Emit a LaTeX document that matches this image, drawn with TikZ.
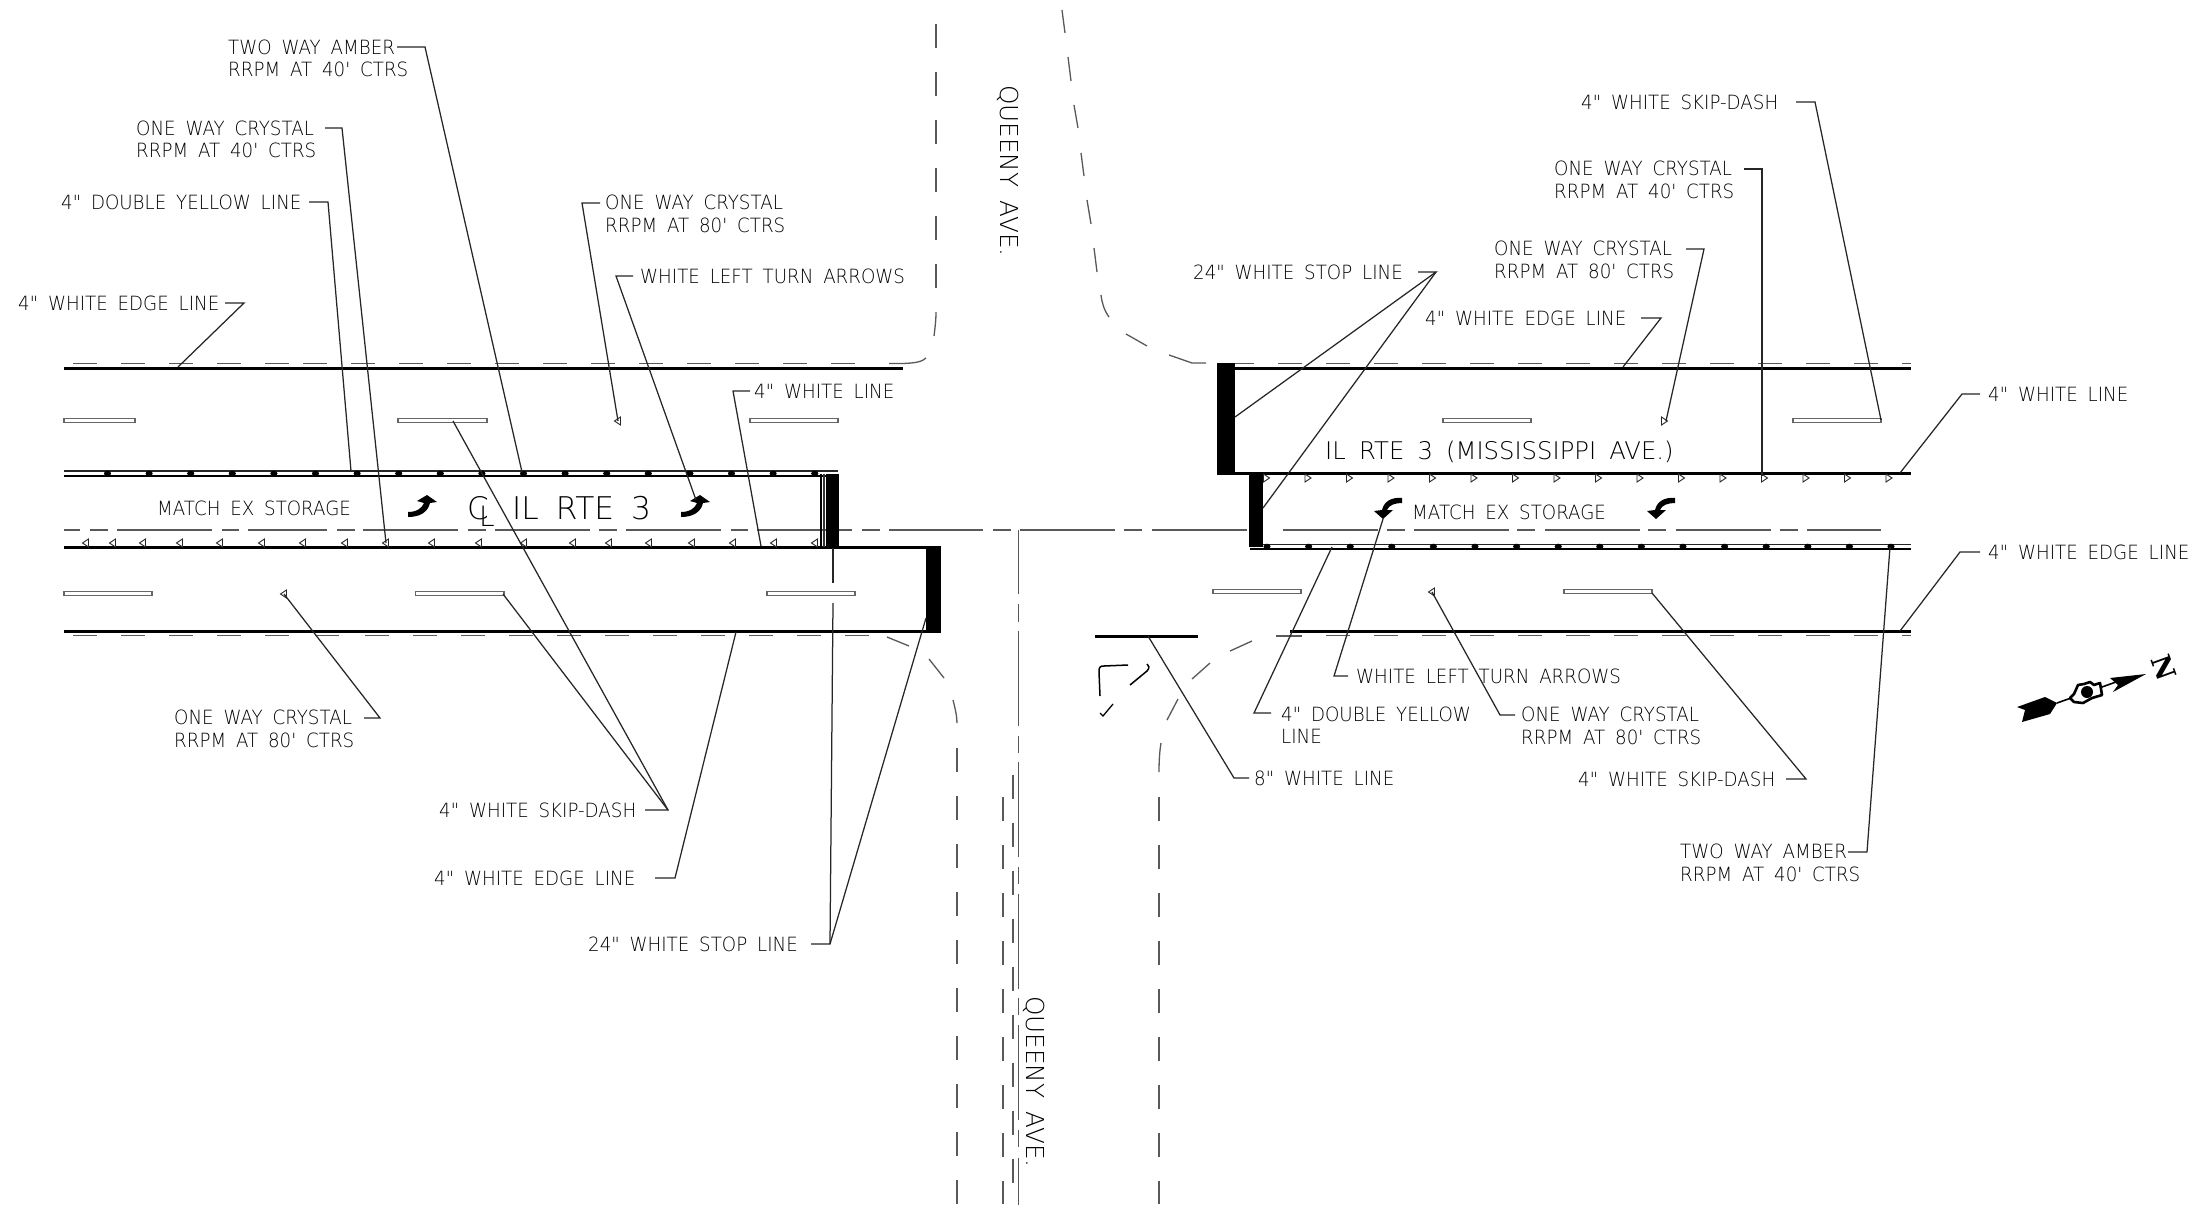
\documentclass[tikz,border=0pt]{standalone}
\usepackage{fontspec}
\newfontfamily\lblfam{DejaVu Sans ExtraLight}[WordSpace=1.7,FakeStretch=0.93]
\newfontfamily\bigfam{DejaVu Sans ExtraLight}[WordSpace=1.7]
\newfontfamily\northfont{DejaVu Serif Bold}
\tikzset{
  lbl/.style={anchor=west,align=left,inner sep=0pt,font=\lblfam\fontsize{19.6}{22.4}\selectfont,text=black},
  big/.style={inner sep=0pt,font=\bigfam\fontsize{24.3}{28}\selectfont,text=black},
  leader/.style={line width=1.25pt,draw=black!85},
  heavy/.style={line width=3pt,draw=black},
  mid/.style={line width=2pt,draw=black},
  dashline/.style={line width=1.3pt,draw=black!65},
  dashA/.style={dashline,dash pattern=on 24pt off 24pt},
  skipdash/.style={line width=1.1pt,draw=black!60,fill=white},
  rpmmark/.style={line width=0.9pt,draw=black!85,fill=white},
  bar/.style={fill=black,draw=none},
  dot/.style={fill=black,draw=none}
}
\newcommand{\rpmleft}[2]{\draw[rpmmark] (#1-3.5,#2) -- (#1+2.5,#2-4) -- (#1+2.5,#2+4) -- cycle;}
\newcommand{\rpmright}[2]{\draw[rpmmark] (#1+3.5,#2) -- (#1-2.5,#2-4) -- (#1-2.5,#2+4) -- cycle;}
\begin{document}
\begin{tikzpicture}[x=1pt,y=-1pt]
\useasboundingbox (0,0) rectangle (2190,1205);
\fill[white] (0,0) rectangle (2190,1205);

% ---------- edge dashes
\foreach \a/\b in {73/290,303/865} {\draw[dashA] (\a,363.5) -- (\b,363.5);}
\draw[dashline] (889,363.5) -- (903,363.5) .. controls (915,363) and (922,362) .. (926,358);
\foreach \a/\b in {73/293,315/341,365/869} {\draw[dashA] (\a,635.5) -- (\b,635.5);}
\draw[dashA] (1235,363.5) -- (1254,363.5);
\draw[dashA] (1278,363.5) -- (1911,363.5);
\draw[dashA] (1326,635.5) -- (1911,635.5);
\draw[dashline] (1276,636) -- (1302,636);

% ---------- main lines, left
\draw[heavy] (64,368) -- (903,368);
\draw[heavy] (64,547.3) -- (941,547.3);
\draw[heavy] (64,631) -- (941,631);
\draw[line width=1.6pt,black!85] (64,471) -- (838,471);
\draw[mid] (64,476) -- (838,476);
\foreach \k in {0,...,17} {\fill[dot] ({107.5+41.6*\k},473.5) ellipse (3.6 and 2.8);}
% main lines, right
\draw[heavy] (1234,368) -- (1911,368);
\draw[heavy] (1217,473.3) -- (1911,473.3);
\draw[heavy] (1290,631) -- (1911,631);
\draw[line width=1.6pt,black!85] (1250,544.3) -- (1911,544.3);
\draw[mid] (1250,549) -- (1911,549);
\foreach \k in {0,...,15} {\fill[dot] ({1267+41.6*\k},546.5) ellipse (3.6 and 2.8);}

% ---------- centre line, along the road
\foreach \a/\b in {64/80,90/108,117/212,222/239,248/327,337/355,363/458,468/486,495/590,599/617,626/721,731/748,757/852,862/880,889/983,993/1011,1020/1115,1124/1142,1152/1247,1283/1378,1387/1405,1414/1509,1517/1535,1545/1640,1648/1666,1676/1771,1780/1798,1807/1881}
  {\draw[dashline] (\a,530) -- (\b,530);}
% centre line of Queeny Ave.
\foreach \a/\b in {530/594,604/622,631/726,736/753,762/857,867/884,894/989,998/1015,1025/1120,1130/1147,1158/1205}
  {\draw[dashline] (1018.3,\a) -- (1018.3,\b);}

% ---------- skip dashes
\foreach \a/\b/\y in {64/135/420.7,398/487/420.7,750/838/420.7,64/152/593.3,415.7/504/593.3,767/855/593.3,1443/1531/420.7,1793/1881/420.7,1213/1301/591.7,1564/1652/591.7}
  {\draw[skipdash] (\a,\y-1.8) rectangle (\b,\y+1.8);}

% ---------- raised markers
\foreach \x in {86,113,143,180,220,262,303,345,386,432,479,524,573,609,649,692,733,774,815} {\rpmleft{\x}{543}}
\foreach \k in {0,...,15} {\rpmright{1266+41.5*\k}{478}}
\rpmleft{284}{594}
\rpmleft{618}{421}
\rpmleft{1432}{592}
\rpmright{1664}{421}

% ---------- stop bars
\fill[bar] (826,474) rectangle (839,547);
\draw[line width=1.6pt,black] (821,474) -- (821,547);
\draw[line width=1.2pt,black!80] (824,474) -- (824,547);
\fill[bar] (926,546) rectangle (941,632);
\fill[bar] (1217,363) rectangle (1235,474);
\fill[bar] (1249,474) rectangle (1263,547);
\draw[heavy] (1095,636) -- (1198,636);

% ---------- upper side roads
\draw[dashA] (936,24) -- (936,288);
\draw[dashline] (936,312) .. controls (936,320) and (935,328) .. (934,336);
\foreach \a/\b/\c/\d in {1062/10/1065/33,1068/57/1071/81,1074/105/1078/128,1081/153/1084/176,1087/200/1091/224,1094/248/1097/272}
  {\draw[dashline] (\a,\b) -- (\c,\d);}
\draw[dashline] (1101,295) .. controls (1102,303) and (1104,310) .. (1109,317);
\draw[dashline] (1126,334) -- (1147,346);
\draw[dashline] (1169,355) -- (1192,363) -- (1206,363);

% ---------- lower side roads
\draw[dashline] (887,637) -- (909,646);
\draw[dashline] (929,659) -- (944,678);
\draw[dashline] (953,700) .. controls (955,708) and (957,716) .. (957,723);
\draw[dashA] (957,748) -- (957,1204);
\draw[dashA] (1003,797) -- (1003,1204);
\draw[dashA] (1013,775) -- (1013,1183);
\draw[dashA] (1159,797) -- (1159,1204);
\draw[dashline] (1161,743) .. controls (1159.5,752) and (1159,762) .. (1159,772);
\draw[dashline] (1167,720) -- (1178,699);
\draw[dashline] (1192,679) -- (1210,663);
\draw[dashline] (1230,651) -- (1252,641);
% marks at the corner
\draw[line width=1.5pt,black] (1100,696) -- (1099,672) .. controls (1099,667) and (1100,666) .. (1104,666) -- (1128,665);
\draw[line width=1.5pt,black] (1130,685) -- (1147,671) .. controls (1150,668) and (1149,665) .. (1147,664);
\draw[line width=1.3pt,black] (1100,713) -- (1103,716) -- (1113,704);

% ---------- turn arrows
\foreach \d in {0,273}{
  \begin{scope}[xshift=\d pt]
  \fill[black] (408,512) .. controls (417,512) and (422,508) .. (424,503) -- (417,501) -- (427,495) -- (437,502) -- (430,503) .. controls (428,512) and (420,517) .. (408,517) -- cycle;
  \end{scope}
  \begin{scope}[xshift=\d pt]
  \fill[black] (1402,498) .. controls (1392,497) and (1384,501) .. (1382,510) -- (1374,511) -- (1383,519) -- (1393,510) -- (1387,510) .. controls (1389,505) and (1395,503) .. (1402,503) -- cycle;
  \end{scope}
}

% ---------- labels and leaders
\node[lbl] (l1) at (228,58.5) {TWO WAY AMBER\\RRPM AT 40' CTRS};
\draw[leader] (397,47) -- (425,47) -- (522,472);
\node[lbl] (l2) at (136,139.5) {ONE WAY CRYSTAL\\RRPM AT 40' CTRS};
\draw[leader] (325,128) -- (342,128) -- (386,543);
\node[lbl] (l3) at (61,202) {4" DOUBLE YELLOW LINE};
\draw[leader] (309,202) -- (328,202) -- (351,471);
\node[lbl] (l4) at (18,303) {4" WHITE EDGE LINE};
\draw[leader] (225,303) -- (244,303) -- (178,367);
\node[lbl] (l5) at (605,214) {ONE WAY CRYSTAL\\RRPM AT 80' CTRS};
\draw[leader] (600,203) -- (582,203) -- (618,421);
\node[lbl] (l6) at (640,276) {WHITE LEFT TURN ARROWS};
\draw[leader] (633,276) -- (616,276) -- (696,500);
\node[lbl] (l7) at (754,391) {4" WHITE LINE};
\draw[leader] (750,391) -- (733,391) -- (761,546);
\node[lbl] (l8) at (439,810) {4" WHITE SKIP-DASH};
\draw[leader] (453,421) -- (668,810) -- (645,810);
\draw[leader] (503,594) -- (668,810);
\node[lbl] (l9) at (434,878) {4" WHITE EDGE LINE};
\draw[leader] (655,878) -- (675,878) -- (736,632);
\node[lbl] (l10) at (588,944) {24" WHITE STOP LINE};
\draw[leader] (811,944) -- (830,944) -- (833,603);
\draw[leader] (833,583) -- (833,548);
\draw[leader] (830,944) -- (926,618);
\node[lbl] (l11) at (174,729) {ONE WAY CRYSTAL\\RRPM AT 80' CTRS};
\draw[leader] (364,718) -- (380,718) -- (284,594);
\node[lbl] (l12) at (1254,778) {8" WHITE LINE};
\draw[leader] (1249,778) -- (1234,778) -- (1148,636);
\node[lbl] (l13) at (1281,725) {4" DOUBLE YELLOW\\LINE};
\draw[leader] (1271,713) -- (1254,713) -- (1332,547);
\node[lbl] (l14) at (1356,676) {WHITE LEFT TURN ARROWS};
\draw[leader] (1348,676) -- (1334,676) -- (1383,519);
\node[lbl] (l15) at (1521,726) {ONE WAY CRYSTAL\\RRPM AT 80' CTRS};
\draw[leader] (1515,715) -- (1500,715) -- (1432,592);
\node[lbl] (l16) at (1578,779) {4" WHITE SKIP-DASH};
\draw[leader] (1786,779) -- (1806,779) -- (1652,593);
\node[lbl] (l17) at (1680,863) {TWO WAY AMBER\\RRPM AT 40' CTRS};
\draw[leader] (1848,852) -- (1867,852) -- (1890,547);
\node[lbl] (l18) at (1988,552) {4" WHITE EDGE LINE};
\draw[leader] (1980,552) -- (1960,552) -- (1900,631);
\node[lbl] (l19) at (1988,394) {4" WHITE LINE};
\draw[leader] (1980,394) -- (1962,394) -- (1900,473);
\node[lbl] (l21) at (1425,318) {4" WHITE EDGE LINE};
\draw[leader] (1641,318) -- (1661,318) -- (1623,367);
\node[lbl] (l22) at (1494,260) {ONE WAY CRYSTAL\\RRPM AT 80' CTRS};
\draw[leader] (1686,249) -- (1704,249) -- (1666,421);
\node[lbl] (l23) at (1554,180) {ONE WAY CRYSTAL\\RRPM AT 40' CTRS};
\draw[leader] (1744,169) -- (1762,169) -- (1762,476);
\node[lbl] (l24) at (1581,102) {4" WHITE SKIP-DASH};
\draw[leader] (1796,102) -- (1815,102) -- (1881,420);
\node[lbl] (l25) at (1193,272) {24" WHITE STOP LINE};
\draw[leader] (1418,272) -- (1436,272) -- (1235,417);
\draw[leader] (1436,272) -- (1263,508);

% ---------- road names
\node[lbl] (m1) at (157,508) {MATCH EX STORAGE};
\node[lbl] (m2) at (1412,512) {MATCH EX STORAGE};
\node[big,anchor=west] (r1) at (1325,452) {IL RTE 3 (MISSISSIPPI AVE.)};
\node[big,anchor=west,font=\bigfam\fontsize{31.3}{34}\selectfont] (r2) at (512,508) {IL RTE 3};
\node[big,font=\bigfam\fontsize{31}{34}\selectfont] (cc) at (478,508) {C};
\node[big,anchor=west,font=\bigfam\fontsize{28}{30}\selectfont] (cl) at (479,516) {L};
\node[big,rotate=-90,anchor=west,font=\bigfam\fontsize{24.7}{28}\selectfont] (q1) at (1008,85) {QUEENY AVE.};
\node[big,rotate=-90,anchor=west,font=\bigfam\fontsize{24.7}{28}\selectfont] (q2) at (1034,996) {QUEENY AVE.};

% ---------- north arrow
\draw[line width=1.6pt,black] (2057,703) -- (2130,677);
\fill[black] (2017,707) -- (2045,697) -- (2057,703) -- (2050,714) -- (2022,722) -- (2025,710) -- cycle;
\fill[black] (2146,674) -- (2110,678) -- (2118,685) -- (2113,692) -- cycle;
\draw[line width=2.6pt,black,fill=white,line join=round] (2070,698) -- (2074,694) -- (2078,685) -- (2084,684) -- (2090,682) -- (2094,685) -- (2100,683) -- (2102,695) -- (2092,698) -- (2083,703) -- (2074,702) -- cycle;
\fill[black] (2087,692) circle (6);
\node[inner sep=0pt,rotate=-70,font=\northfont\fontsize{27}{27}\selectfont] (north) at (2164,668) {N};
\end{tikzpicture}
\end{document}
